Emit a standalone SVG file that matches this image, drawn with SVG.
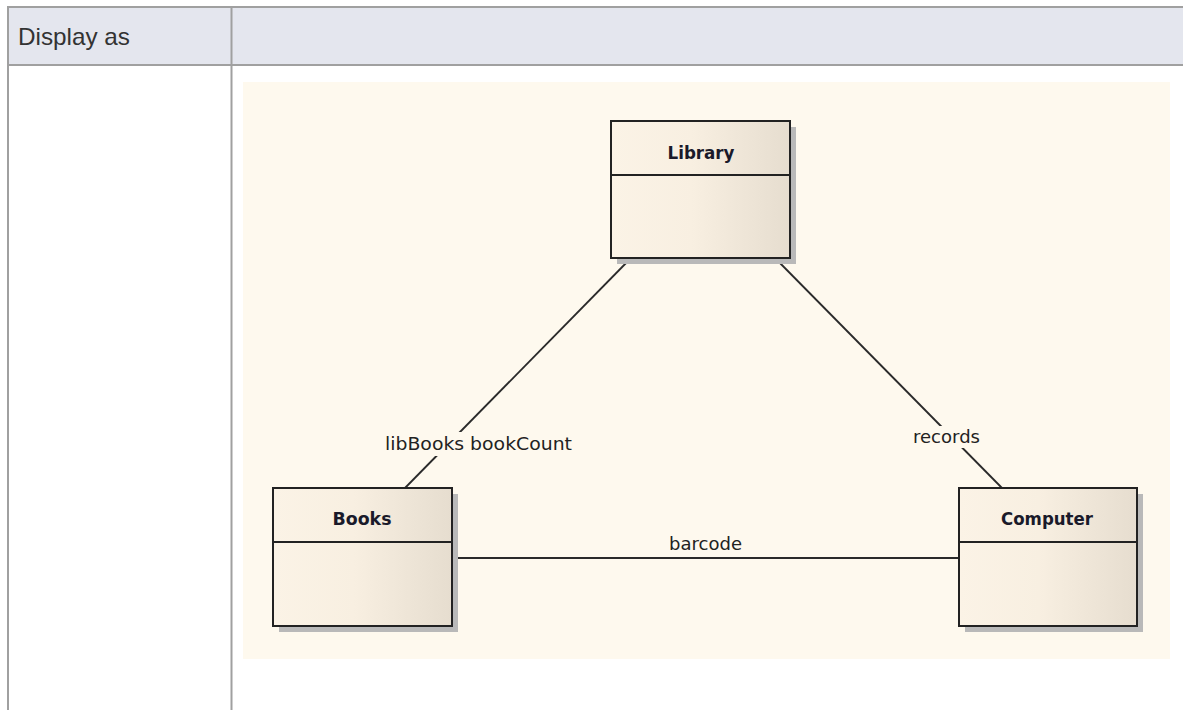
<svg xmlns="http://www.w3.org/2000/svg" width="1183" height="710" viewBox="0 0 1183 710">
<defs>
<linearGradient id="boxg" x1="0" y1="0" x2="1" y2="0">
<stop offset="0" stop-color="#fbf3e6"/>
<stop offset="0.45" stop-color="#f8efe1"/>
<stop offset="1" stop-color="#e6ddcf"/>
</linearGradient>
<style>
.grid{stroke:#a0a0a0;stroke-width:2;fill:none}
.hdr{fill:#e4e6ee}
.box{fill:url(#boxg);stroke:#222;stroke-width:2}
.sh{fill:#b9b9b9}
.div{stroke:#222;stroke-width:2}
.conn{stroke:#2a2a2a;stroke-width:1.8;fill:none}
.lbl{font-family:"DejaVu Sans",Verdana,sans-serif;font-size:17px;fill:#222}
.lblbg{fill:#fef9ee}
.name{font-family:"DejaVu Sans",Verdana,sans-serif;font-size:17px;font-weight:bold;fill:#1a1a2a;text-anchor:middle}
.head{font-family:"Liberation Sans",Arial,sans-serif;font-size:24px;fill:#333}
</style>
</defs>
<g id="table">
<rect class="hdr" x="7" y="7" width="1176" height="58"/>
<line class="grid" x1="7" y1="7" x2="1183" y2="7"/>
<line class="grid" x1="7" y1="65" x2="1183" y2="65"/>
<line class="grid" x1="8" y1="6" x2="8" y2="710"/>
<line class="grid" x1="231.5" y1="6" x2="231.5" y2="710"/>
<text class="head" x="18" y="45" textLength="112" lengthAdjust="spacingAndGlyphs">Display as</text>
</g>
<rect id="canvas" x="243" y="82" width="927" height="577" fill="#fef9ee"/>
<g id="connectors">
<line class="conn" x1="631" y1="258" x2="405" y2="488"/>
<line class="conn" x1="775" y1="258" x2="1002" y2="488"/>
<line class="conn" x1="452" y1="558" x2="959" y2="558"/>
<rect class="lblbg" x="386" y="432" width="186" height="24"/>
<text class="lbl" x="385" y="450" textLength="187" lengthAdjust="spacingAndGlyphs">libBooks bookCount</text>
<rect class="lblbg" x="913" y="426" width="68" height="22"/>
<text class="lbl" x="913" y="443" textLength="67" lengthAdjust="spacingAndGlyphs">records</text>
<text class="lbl" x="669" y="550" textLength="73" lengthAdjust="spacingAndGlyphs">barcode</text>
</g>
<g id="Library">
<rect class="sh" x="617" y="127" width="179" height="137"/>
<rect class="box" x="611" y="121" width="179" height="137"/>
<line class="div" x1="611" y1="175" x2="790" y2="175"/>
<text class="name" x="701" y="159" textLength="67" lengthAdjust="spacingAndGlyphs">Library</text>
</g>
<g id="Books">
<rect class="sh" x="279" y="494" width="179" height="138"/>
<rect class="box" x="273" y="488" width="179" height="138"/>
<line class="div" x1="273" y1="542" x2="452" y2="542"/>
<text class="name" x="362" y="525" textLength="59" lengthAdjust="spacingAndGlyphs">Books</text>
</g>
<g id="Computer">
<rect class="sh" x="965" y="494" width="178" height="138"/>
<rect class="box" x="959" y="488" width="178" height="138"/>
<line class="div" x1="959" y1="542" x2="1137" y2="542"/>
<text class="name" x="1047" y="525" textLength="92" lengthAdjust="spacingAndGlyphs">Computer</text>
</g>
</svg>
